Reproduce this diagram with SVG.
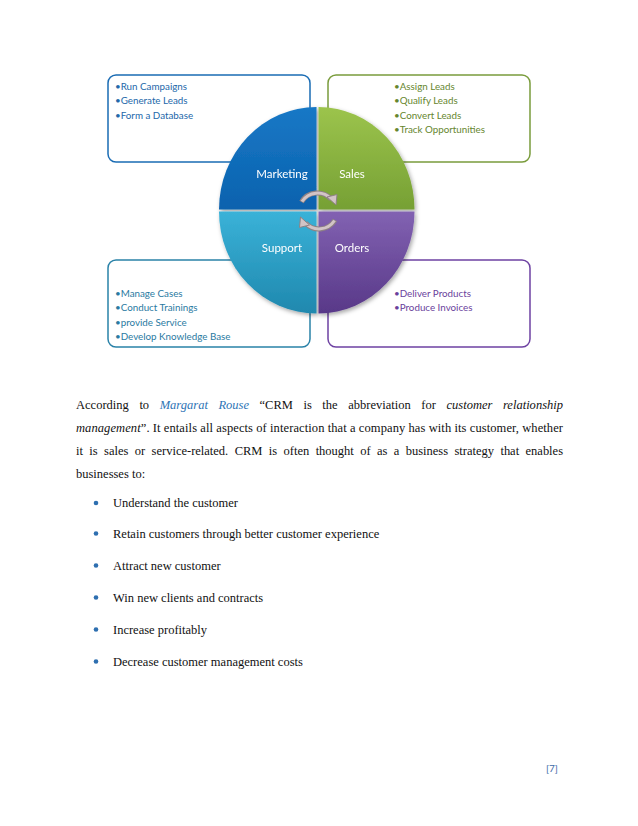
<svg xmlns="http://www.w3.org/2000/svg" width="638" height="826" viewBox="0 0 638 826">
<defs>
<linearGradient id="gM" x1="0" y1="0" x2="0" y2="1"><stop offset="0" stop-color="#1878c6"/><stop offset="1" stop-color="#0a62ae"/></linearGradient>
<linearGradient id="gS" x1="0" y1="0" x2="0" y2="1"><stop offset="0" stop-color="#9cc44c"/><stop offset="1" stop-color="#76a034"/></linearGradient>
<linearGradient id="gP" x1="0" y1="0" x2="0" y2="1"><stop offset="0" stop-color="#3ab2d8"/><stop offset="1" stop-color="#1f88ae"/></linearGradient>
<linearGradient id="gO" x1="0" y1="0" x2="0" y2="1"><stop offset="0" stop-color="#8262b2"/><stop offset="1" stop-color="#583888"/></linearGradient>
<filter id="sh" x="-10%" y="-10%" width="130%" height="130%"><feDropShadow dx="1.5" dy="2" stdDeviation="2" flood-color="#000" flood-opacity="0.35"/></filter>
</defs>
<style>
.box{fill:#fff;stroke-width:1.5}
.bt{font-family:Lato,"Liberation Sans",sans-serif;font-size:9.8px}
.ql{font-family:Lato,"Liberation Sans",sans-serif;font-size:11.5px;fill:#fff;text-anchor:middle}
.p{font-family:"Liberation Serif",serif;font-size:12.5px;fill:#111}
.i{font-style:italic}
.arc{fill:none;stroke:#8e8284;stroke-width:5;stroke-linecap:butt}
.arc2{fill:none;stroke:#d2c4c6;stroke-width:3}
.ah{fill:#d2c4c6;stroke:#8e8284;stroke-width:1}
</style>
<rect width="638" height="826" fill="#fff"/>

<g id="marketing-box">
<rect class="box" x="108" y="75" width="202" height="87" rx="8" stroke="#1a6cb4"/>
<text class="bt" fill="#2368aa"><tspan x="115" y="89.5">•Run Campaigns</tspan><tspan x="115" y="104">•Generate Leads</tspan><tspan x="115" y="118.5">•Form a Database</tspan></text>
</g>
<g id="sales-box">
<rect class="box" x="328" y="75" width="202" height="87" rx="8" stroke="#7a9c3c"/>
<text class="bt" fill="#66862e"><tspan x="394" y="89.5">•Assign Leads</tspan><tspan x="394" y="104">•Qualify Leads</tspan><tspan x="394" y="118.5">•Convert Leads</tspan><tspan x="394" y="133">•Track Opportunities</tspan></text>
</g>
<g id="support-box">
<rect class="box" x="108" y="260" width="202" height="87" rx="8" stroke="#2a82a8"/>
<text class="bt" fill="#2a7aa2"><tspan x="115" y="296.5">•Manage Cases</tspan><tspan x="115" y="311">•Conduct Trainings</tspan><tspan x="115" y="325.5">•provide Service</tspan><tspan x="115" y="340">•Develop Knowledge Base</tspan></text>
</g>
<g id="orders-box">
<rect class="box" x="328" y="260" width="202" height="87" rx="8" stroke="#6e42a2"/>
<text class="bt" fill="#6a3f9c"><tspan x="394" y="296.5">•Deliver Products</tspan><tspan x="394" y="311">•Produce Invoices</tspan></text>
</g>

<g id="pie" filter="url(#sh)">
<g id="marketing">
<path d="M316.5,209.5 L316.5,107 A97.5,102.5 0 0 0 219,209.5 Z" fill="url(#gM)"/>
<text class="ql" x="282" y="178">Marketing</text>
</g>
<g id="sales">
<path d="M318.5,209.5 L318.5,107 A96,102.5 0 0 1 414.5,209.5 Z" fill="url(#gS)"/>
<text class="ql" x="352" y="178">Sales</text>
</g>
<g id="support">
<path d="M316.5,211.5 L219,211.5 A97.5,102 0 0 0 316.5,313.5 Z" fill="url(#gP)"/>
<text class="ql" x="282" y="252">Support</text>
</g>
<g id="orders">
<path d="M318.5,211.5 L414.5,211.5 A96,102 0 0 1 318.5,313.5 Z" fill="url(#gO)"/>
<text class="ql" x="352" y="252">Orders</text>
</g>
</g>

<g id="connectors">
<path class="arc" d="M301.5,202 A18.5,18.5 0 0 1 331,199"/>
<path class="arc2" d="M302,201.5 A18.5,18.5 0 0 1 331,199"/>
<polygon class="ah" points="327,197 337,194.5 336,205"/>
<path class="arc" d="M335,220 A18.5,18.5 0 0 1 305.5,223"/>
<path class="arc2" d="M334.5,220.5 A18.5,18.5 0 0 1 305.5,223"/>
<polygon class="ah" points="309.5,225 299.5,227.5 300.5,217"/>
</g>

<g id="paragraph">
<text class="p" x="76" y="409" word-spacing="7.4" textLength="487" lengthAdjust="spacing">According to <tspan class="i" fill="#2e74b5">Margarat Rouse</tspan> “CRM is the abbreviation for <tspan class="i">customer relationship</tspan></text>
<text class="p" x="76" y="432" textLength="487" lengthAdjust="spacing"><tspan class="i">management</tspan>”. It entails all aspects of interaction that a company has with its customer, whether</text>
<text class="p" x="76" y="455" word-spacing="3.3" textLength="487" lengthAdjust="spacing">it is sales or service-related. CRM is often thought of as a business strategy that enables</text>
<text class="p" x="76" y="478">businesses to:</text>
</g>

<g id="bullets">
<g fill="#2e6fb0"><circle cx="96" cy="503" r="2.3"/><circle cx="96" cy="533.5" r="2.3"/><circle cx="96" cy="565.5" r="2.3"/><circle cx="96" cy="597.5" r="2.3"/><circle cx="96" cy="629.5" r="2.3"/><circle cx="96" cy="661.5" r="2.3"/></g>
<text class="p" x="113" y="507">Understand the customer</text>
<text class="p" x="113" y="538">Retain customers through better customer experience</text>
<text class="p" x="113" y="570">Attract new customer</text>
<text class="p" x="113" y="602">Win new clients and contracts</text>
<text class="p" x="113" y="634">Increase profitably</text>
<text class="p" x="113" y="666">Decrease customer management costs</text>
</g>

<text id="page-number" x="546" y="772" font-family="Lato,'Liberation Sans',sans-serif" font-size="10" fill="#3d6aa8">[7]</text>
</svg>
